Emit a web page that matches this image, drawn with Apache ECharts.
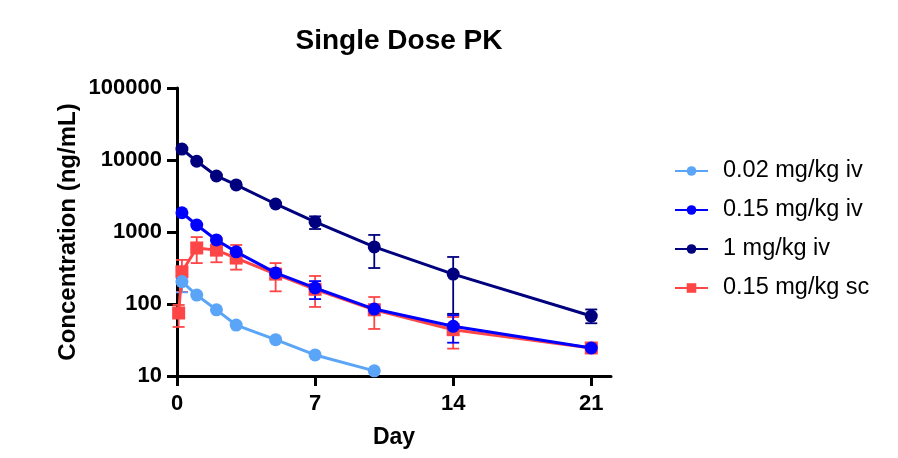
<!DOCTYPE html>
<html>
<head>
<meta charset="utf-8">
<script src="https://cdn.jsdelivr.net/npm/echarts@6/dist/echarts.min.js"></script>
<style>
  html, body { margin: 0; padding: 0; background: #fff; }
  #main { width: 898px; height: 458px; }
</style>
</head>
<body>
<div id="main"></div>
<script>
// values (Day vs ng/mL)
var seriesNames = ['0.02 mg/kg iv', '0.15 mg/kg iv', '1 mg/kg iv', '0.15 mg/kg sc'];
var seriesColors = ['#5aa5f7', '#0000ff', '#00007f', '#ff4646'];

var dayLow = [0.25, 1, 2, 3, 5, 7, 10];
var concLow = [205, 133, 83, 51, 32, 19.6, 11.8];
var errLowLo = [145, null, null, null, null, null, null];
var errLowHi = [290, null, null, null, null, null, null];

var dayMid = [0.25, 1, 2, 3, 5, 7, 10, 14, 21];
var concMid = [1850, 1250, 775, 530, 270, 167, 85, 49, 24.5];
var errMidLo = [null, null, null, null, 250, 117, 72, 29, 22];
var errMidHi = [null, null, null, null, 290, 208, 98, 70, 27];

var dayHigh = [0.25, 1, 2, 3, 5, 7, 10, 14, 21];
var concHigh = [14200, 9600, 6000, 4500, 2450, 1380, 620, 260, 68];
var errHighLo = [null, null, null, null, null, 1100, 316, 73, 54];
var errHighHi = [null, null, null, null, null, 1650, 910, 450, 84];

var daySc = [0.083, 0.25, 1, 2, 3, 5, 7, 10, 14, 21];
var concSc = [75, 280, 600, 560, 435, 260, 160, 83, 44, 24.5];
var errScLo = [48, 147, 370, 380, 300, 150, 91, 45, 24, 22];
var errScHi = [97, 410, 850, 825, 660, 370, 245, 125, 66, 28];

var xTicks = [0, 7, 14, 21];

var FONT = 'Liberation Sans';

function pairs(xs, ys) {
	var out = [];
	for (var i = 0; i < xs.length; i++) out.push([xs[i], ys[i]]);
	return out;
}
function errPairs(xs, lo, hi) {
	var out = [];
	for (var i = 0; i < xs.length; i++) {
		if (lo[i] != null && hi[i] != null) out.push([xs[i], lo[i], hi[i]]);
	}
	return out;
}

function errSeries(name, color, data) {
	return {
		name: name,
		type: 'custom',
		z: 1,
		silent: true,
		encode: { x: 0, y: [1, 2] },
		data: data,
		renderItem: function(params, api) {
			var x = api.value(0);
			var top = api.coord([x, api.value(2)]);
			var bot = api.coord([x, api.value(1)]);
			var w = 6;
			var st = { stroke: color, lineWidth: 1.8 };
			return {
				type: 'group',
				children: [
					{ type: 'line', shape: { x1: top[0], y1: top[1], x2: bot[0], y2: bot[1] }, style: st },
					{ type: 'line', shape: { x1: top[0] - w, y1: top[1], x2: top[0] + w, y2: top[1] }, style: st },
					{ type: 'line', shape: { x1: bot[0] - w, y1: bot[1], x2: bot[0] + w, y2: bot[1] }, style: st }
				]
			};
		}
	};
}

function lineSeries(name, color, data, symbol, z) {
	return {
		name: name,
		type: 'line',
		z: z,
		data: data,
		symbol: symbol,
		symbolSize: 13,
		showAllSymbol: true,
		animation: false,
		lineStyle: { color: color, width: 3 },
		itemStyle: { color: color, opacity: 1 }
	};
}

var myChart = echarts.init(document.getElementById('main'));

var option = {
	animation: false,
	title: {
		text: 'Single Dose PK',
		left: 394,
		textAlign: 'center',
		top: 22,
		textStyle: { fontFamily: FONT, fontSize: 28, fontWeight: 'bold', color: '#000' }
	},
	legend: {
		orient: 'vertical',
		left: 669,
		top: 154,
		itemWidth: 33,
		itemHeight: 12,
		itemGap: 15,
		data: seriesNames,
		textStyle: { fontFamily: FONT, fontSize: 23.5, color: '#000', padding: [0, 0, 0, 10] }
	},
	grid: { left: 177, top: 88, right: 287, bottom: 82, containLabel: false },
	xAxis: {
		type: 'value',
		min: 0,
		max: 22,
		interval: 7,
		name: 'Day',
		nameLocation: 'middle',
		nameGap: 50,
		nameTextStyle: { fontFamily: FONT, fontSize: 23, fontWeight: 'bold', color: '#000' },
		splitLine: { show: false },
		axisLine: { lineStyle: { color: '#000', width: 3 } },
		axisTick: { length: 10, lineStyle: { color: '#000', width: 3 }, customValues: xTicks },
		axisLabel: { margin: 17, fontFamily: FONT, fontSize: 22, fontWeight: 'bold', color: '#000', customValues: xTicks }
	},
	yAxis: {
		type: 'log',
		logBase: 10,
		min: 10,
		max: 100000,
		name: 'Concentration (ng/mL)',
		nameLocation: 'middle',
		nameGap: 97,
		nameTextStyle: { fontFamily: FONT, fontSize: 24, fontWeight: 'bold', color: '#000' },
		splitLine: { show: false },
		axisLine: { show: true, lineStyle: { color: '#000', width: 3 } },
		axisTick: { show: true, length: 10, lineStyle: { color: '#000', width: 3 } },
		axisLabel: {
			margin: 15,
			fontFamily: FONT, fontSize: 22, fontWeight: 'bold', color: '#000',
			formatter: function(v) { return String(Math.round(v)); }
		}
	},
	series: [
		errSeries('err sc', seriesColors[3], errPairs(daySc, errScLo, errScHi)),
		errSeries('err low', seriesColors[0], errPairs(dayLow, errLowLo, errLowHi)),
		errSeries('err high', seriesColors[2], errPairs(dayHigh, errHighLo, errHighHi)),
		errSeries('err mid', seriesColors[1], errPairs(dayMid, errMidLo, errMidHi)),
		lineSeries(seriesNames[3], seriesColors[3], pairs(daySc, concSc), 'rect', 2),
		lineSeries(seriesNames[0], seriesColors[0], pairs(dayLow, concLow), 'circle', 3),
		lineSeries(seriesNames[2], seriesColors[2], pairs(dayHigh, concHigh), 'circle', 4),
		lineSeries(seriesNames[1], seriesColors[1], pairs(dayMid, concMid), 'circle', 5)
	]
};

myChart.setOption(option);
window.onresize = function() { myChart.resize(); };
</script>
</body>
</html>
